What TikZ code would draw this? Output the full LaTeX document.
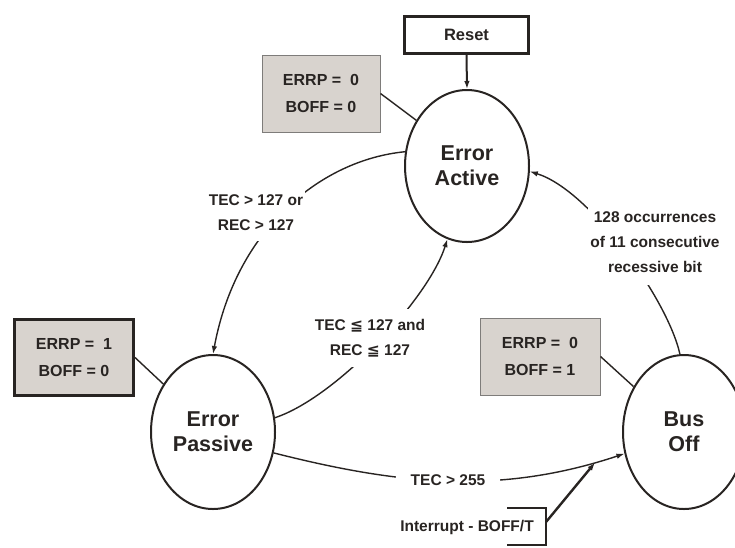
\documentclass[tikz,border=0pt]{standalone}
\usepackage{fontspec}
\setmainfont{Liberation Sans}
\newfontfamily\symf{DejaVu Sans}
\usetikzlibrary{shapes.geometric,arrows.meta}
\definecolor{boxgray}{RGB}{216,211,206}
\definecolor{ink}{RGB}{40,36,34}
\tikzset{
  statenode/.style={draw=ink, ellipse, line width=2pt, inner sep=0pt, text=ink,
    font=\bfseries\fontsize{21.5}{25}\selectfont, align=center},
  flagbox/.style={draw=ink!60, fill=boxgray, rectangle, line width=1pt, inner sep=0pt,
    text=ink, font=\bfseries\fontsize{16}{27}\selectfont, align=center},
  thickbox/.style={flagbox, draw=ink, line width=3pt},
  lbl/.style={fill=white, text=ink, font=\bfseries\fontsize{15.5}{25}\selectfont,
    align=center, inner xsep=2pt, inner ysep=10pt},
  conn/.style={draw=ink, line width=1.4pt},
  arr/.style={conn, -{Latex[length=8pt,width=5.5pt]}},
}
\begin{document}
\begin{tikzpicture}[x=1pt,y=-1pt]
\useasboundingbox[fill=white] (0,0) rectangle (735,547);
% states
\node[statenode, minimum width=124pt, minimum height=152pt] (EA) at (467,166) {Error\\Active};
\node[statenode, minimum width=124pt, minimum height=154pt] (EP) at (213,432) {Error\\Passive};
\node[statenode, minimum width=122pt, minimum height=154pt] (BO) at (684,432) {Bus\\Off};
% reset
\node[draw=ink, line width=3pt, minimum width=124pt, minimum height=37pt, inner sep=0pt,
  text=ink, font=\bfseries\fontsize{16.5}{18}\selectfont] (R) at (466.5,35) {Reset};
% flag boxes
\node[flagbox, minimum width=118pt, minimum height=77pt] (F0) at (321,93.5) {ERRP = \ 0\\BOFF = 0};
\node[thickbox, minimum width=119pt, minimum height=76pt] (F1) at (74,357.5) {ERRP = \ 1\\BOFF = 0};
\node[flagbox, minimum width=120pt, minimum height=77pt] (F2) at (540,356.5) {ERRP = \ 0\\BOFF = 1};
% connectors
\draw[arr, line width=2pt] (R.south) -- (EA.north);
\draw[conn] (F0.east) -- (EA.138);
\draw[conn] (F1.east) -- (EP.136);
\draw[conn] (F2.east) -- (BO.138);
\draw[arr] (EA.167) .. controls (320,160) and (236,230) .. (EP.north);
\draw[arr] (EP.13) .. controls (335,398) and (428,300) .. (EA.255);
\draw[arr] (BO.93) .. controls (668,300) and (590,190) .. (EA.355);
\draw[arr] (EP.341) .. controls (400,485) and (500,495) .. coordinate[pos=0.92] (tip) (BO.200);
% labels
\node[lbl] (L1) at (256,213) {TEC > 127 or\\REC > 127};
\node[lbl] (L2) at (370,338) {TEC {\symf\bfseries ≦} 127 and\\REC {\symf\bfseries ≦} 127};
\node[lbl, inner ysep=13pt] (L3) at (655,242) {128 occurrences\\of 11 consecutive\\recessive bit};
\node[lbl, inner xsep=15pt, inner ysep=4pt] (L4) at (448,480) {TEC > 255};
% interrupt
\node[text=ink, font=\bfseries\fontsize{15.5}{18}\selectfont, inner sep=0pt] (IT) at (467,527) {Interrupt - BOFF/T};
\coordinate (isrc) at (546,522);
\draw[ink, line width=1.6pt] (507,508) -- (546,508) -- (546,545) -- (507,545);
\draw[arr, line width=2.4pt] (isrc) -- (tip);
\end{tikzpicture}
\end{document}
